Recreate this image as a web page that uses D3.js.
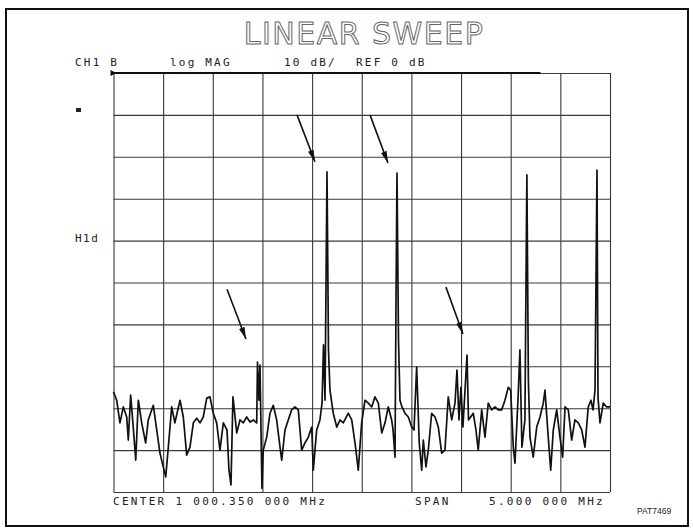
<!DOCTYPE html>
<html>
<head>
<meta charset="utf-8">
<script src="https://cdn.jsdelivr.net/npm/d3@7/dist/d3.min.js"></script>
<style>
  html, body { margin: 0; padding: 0; background: #fff; }
  svg { display: block; }
  .mono { font-family: "DejaVu Sans Mono", "Liberation Mono", monospace; fill: #222; }
</style>
</head>
<body>
<svg id="chart" width="693" height="530"></svg>
<script>
// Sweep settings
const startMHz = 997.85;
const spanMHz = 5.0;
const refDB = 0;
const dbPerDiv = 10;
const divisions = 10;

// Measured trace: sweep position (kHz from start) and level (dB)
const sweepKHz = [
  0, 32, 65, 99, 133, 149, 173, 201, 224, 250, 284, 324, 350, 401, 435, 468, 501, 526, 552, 586,
  618, 670, 703, 737, 770, 804, 838, 871, 904, 939, 971, 1005, 1039, 1072, 1106, 1143, 1163, 1183, 1203, 1241,
  1274, 1307, 1341, 1375, 1408, 1442, 1450, 1465, 1475, 1495, 1508, 1543, 1576, 1609, 1643, 1677, 1694, 1727, 1760, 1794,
  1828, 1861, 1895, 1928, 1962, 1996, 2012, 2046, 2079, 2100, 2115, 2130, 2150, 2165, 2180, 2213, 2248, 2281, 2314, 2364,
  2399, 2432, 2465, 2499, 2533, 2566, 2600, 2633, 2667, 2701, 2734, 2767, 2801, 2815, 2835, 2845, 2855, 2870, 2885, 2905,
  2935, 2969, 3003, 3026, 3053, 3079, 3104, 3120, 3147, 3170, 3204, 3238, 3271, 3305, 3338, 3371, 3406, 3439, 3459, 3479,
  3499, 3519, 3540, 3560, 3575, 3623, 3650, 3673, 3708, 3741, 3774, 3808, 3842, 3875, 3909, 3942, 3976, 4000, 4026, 4043,
  4073, 4093, 4113, 4143, 4163, 4178, 4194, 4227, 4262, 4295, 4328, 4345, 4378, 4403, 4429, 4463, 4496, 4523, 4547, 4580,
  4614, 4647, 4681, 4715, 4748, 4781, 4808, 4829, 4849, 4869, 4879, 4899, 4932, 4966, 5000
];
const levelDB = [
  -76.1, -78.1, -83.5, -79.7, -82.1, -87.6, -76.9, -85.2, -92.4, -78.1, -83.5, -88.3, -82.8, -79.3, -85.2, -90.7, -94.0, -96.4, -89.3, -79.7,
  -83.5, -78.1, -82.1, -91.2, -89.3, -83.5, -82.4, -83.5, -82.1, -77.6, -77.3, -81.2, -83.5, -90.0, -83.5, -85.2, -94.8, -98.3, -77.3, -85.9,
  -82.8, -83.5, -82.1, -83.3, -82.8, -83.5, -69.0, -78.1, -69.7, -99.1, -90.0, -86.9, -81.2, -79.3, -82.8, -89.3, -92.4, -85.2, -82.8, -80.4,
  -79.7, -80.4, -90.0, -88.3, -86.9, -84.5, -94.8, -85.2, -82.8, -78.8, -64.9, -78.1, -23.6, -66.1, -75.7, -81.2, -84.5, -82.8, -83.5, -81.2,
  -82.8, -88.3, -94.8, -83.5, -78.1, -78.8, -79.7, -77.3, -78.8, -85.9, -83.5, -79.7, -82.8, -85.2, -91.7, -54.2, -23.9, -63.7, -78.1, -79.7,
  -81.2, -82.1, -84.5, -85.2, -70.2, -88.3, -94.8, -87.6, -94.0, -90.0, -81.2, -82.1, -84.5, -90.7, -90.0, -77.3, -82.8, -78.8, -70.9, -82.8,
  -75.0, -84.5, -75.7, -67.3, -82.8, -81.2, -85.2, -90.0, -80.4, -86.9, -78.8, -80.4, -79.7, -80.4, -80.4, -78.1, -75.0, -75.7, -89.3, -93.1,
  -78.1, -66.1, -89.3, -82.8, -24.3, -73.3, -86.9, -91.7, -84.5, -82.1, -78.8, -75.7, -86.9, -94.8, -85.2, -80.4, -86.9, -91.7, -79.7, -80.4,
  -87.6, -82.8, -83.5, -85.2, -89.3, -79.7, -78.1, -80.4, -75.7, -23.2, -77.3, -83.5, -78.8, -79.7, -79.7
];

// Annotation arrows: [fromKHz, fromDB, toKHz, toDB]
const arrows = [
  [1848, -10.0, 2029, -21.2],
  [2583, -10.0, 2764, -21.5],
  [1143, -51.6, 1334, -63.5],
  [3348, -51.1, 3519, -62.3]
];

// Annunciator texts
const titleText = "LINEAR SWEEP";
const headerTexts = ["CH1 B", "log MAG", "10 dB/", "REF 0 dB"];
const footerTexts = ["CENTER 1 000.350 000 MHz", "SPAN", "5.000 000 MHz"];
const sideTexts = ["H1d"];
const figureId = "PAT7469";

const svg = d3.select("#chart");
const plot = { left: 113.5, top: 73, right: 610, bottom: 492 };

const x = d3.scaleLinear()
  .domain([startMHz, startMHz + spanMHz])
  .range([plot.left, plot.right]);
const y = d3.scaleLinear()
  .domain([refDB, refDB - dbPerDiv * divisions])
  .range([plot.top, plot.bottom]);

const xTicks = d3.range(divisions + 1).map(i => startMHz + i * spanMHz / divisions);
const yTicks = d3.range(divisions + 1).map(i => refDB - i * dbPerDiv);

// Page frame
svg.append("rect")
  .attr("x", 6).attr("y", 9).attr("width", 682).attr("height", 517)
  .attr("fill", "none").attr("stroke", "#111").attr("stroke-width", 2);

// Graticule drawn with axes (no labels)
const gx = svg.append("g")
  .attr("transform", `translate(0,${plot.bottom})`)
  .call(d3.axisBottom(x).tickValues(xTicks).tickSize(-(plot.bottom - plot.top)).tickFormat(""));
const gy = svg.append("g")
  .attr("transform", `translate(${plot.left},0)`)
  .call(d3.axisLeft(y).tickValues(yTicks).tickSize(-(plot.right - plot.left)).tickFormat(""));
[gx, gy].forEach(g => {
  g.select(".domain").remove();
  g.selectAll(".tick line").attr("stroke", "#3a3a3a").attr("stroke-width", 1.1);
});
// reference line at the top is heavier
svg.append("line")
  .attr("x1", x(startMHz)).attr("x2", x(startMHz + 4.3))
  .attr("y1", y(refDB)).attr("y2", y(refDB))
  .attr("stroke", "#111").attr("stroke-width", 2);
// reference position marker
svg.append("path")
  .attr("d", `M${plot.left - 3},${y(refDB) - 3}L${plot.left + 3},${y(refDB)}L${plot.left - 3},${y(refDB) + 3}Z`)
  .attr("fill", "#111");

// Trace
const trace = sweepKHz.map((k, i) => ({ f: startMHz + k / 1000, db: levelDB[i] }));
svg.append("path")
  .datum(trace)
  .attr("fill", "none")
  .attr("stroke", "#111")
  .attr("stroke-width", 1.7)
  .attr("stroke-linejoin", "round")
  .attr("d", d3.line().x(d => x(d.f)).y(d => y(d.db)));

// Arrows
const defs = svg.append("defs");
defs.append("marker")
  .attr("id", "head")
  .attr("viewBox", "0 0 12 6")
  .attr("refX", 12).attr("refY", 3)
  .attr("markerWidth", 12).attr("markerHeight", 6)
  .attr("markerUnits", "userSpaceOnUse")
  .attr("orient", "auto")
  .append("path").attr("d", "M0,0L12,3L0,6Z").attr("fill", "#111");
svg.append("g").selectAll("line").data(arrows).join("line")
  .attr("x1", d => x(startMHz + d[0] / 1000)).attr("y1", d => y(d[1]))
  .attr("x2", d => x(startMHz + d[2] / 1000)).attr("y2", d => y(d[3]))
  .attr("stroke", "#111").attr("stroke-width", 1.6)
  .attr("marker-end", "url(#head)");

// Title in outline lettering
svg.append("text")
  .attr("x", 364).attr("y", 44)
  .attr("text-anchor", "middle")
  .attr("font-family", "DejaVu Sans, sans-serif")
  .attr("font-size", 30)
  .attr("letter-spacing", 1.5)
  .attr("fill", "#fff")
  .attr("stroke", "#666")
  .attr("stroke-width", 1)
  .text(titleText);

// Header annunciators
const headerX = [75, 170, 284, 356];
svg.append("g").selectAll("text").data(headerTexts).join("text")
  .attr("class", "mono")
  .attr("x", (d, i) => headerX[i]).attr("y", 66)
  .attr("font-size", 11).attr("letter-spacing", 2.2)
  .text(d => d);

// Side annunciators
svg.append("rect").attr("x", 76).attr("y", 108).attr("width", 5).attr("height", 4).attr("fill", "#222");
svg.append("text").attr("class", "mono")
  .attr("x", 75).attr("y", 242)
  .attr("font-size", 11).attr("letter-spacing", 1.5)
  .text(sideTexts[0]);

// Footer annunciators
const footerX = [113, 415, 489];
svg.append("g").selectAll("text").data(footerTexts).join("text")
  .attr("class", "mono")
  .attr("x", (d, i) => footerX[i]).attr("y", 505)
  .attr("font-size", 11).attr("letter-spacing", 2.3)
  .text(d => d);

svg.append("text")
  .attr("x", 637).attr("y", 514)
  .attr("font-family", "Liberation Sans Narrow, Liberation Sans, sans-serif")
  .attr("font-size", 8.5)
  .attr("fill", "#222")
  .text(figureId);
</script>
</body>
</html>
